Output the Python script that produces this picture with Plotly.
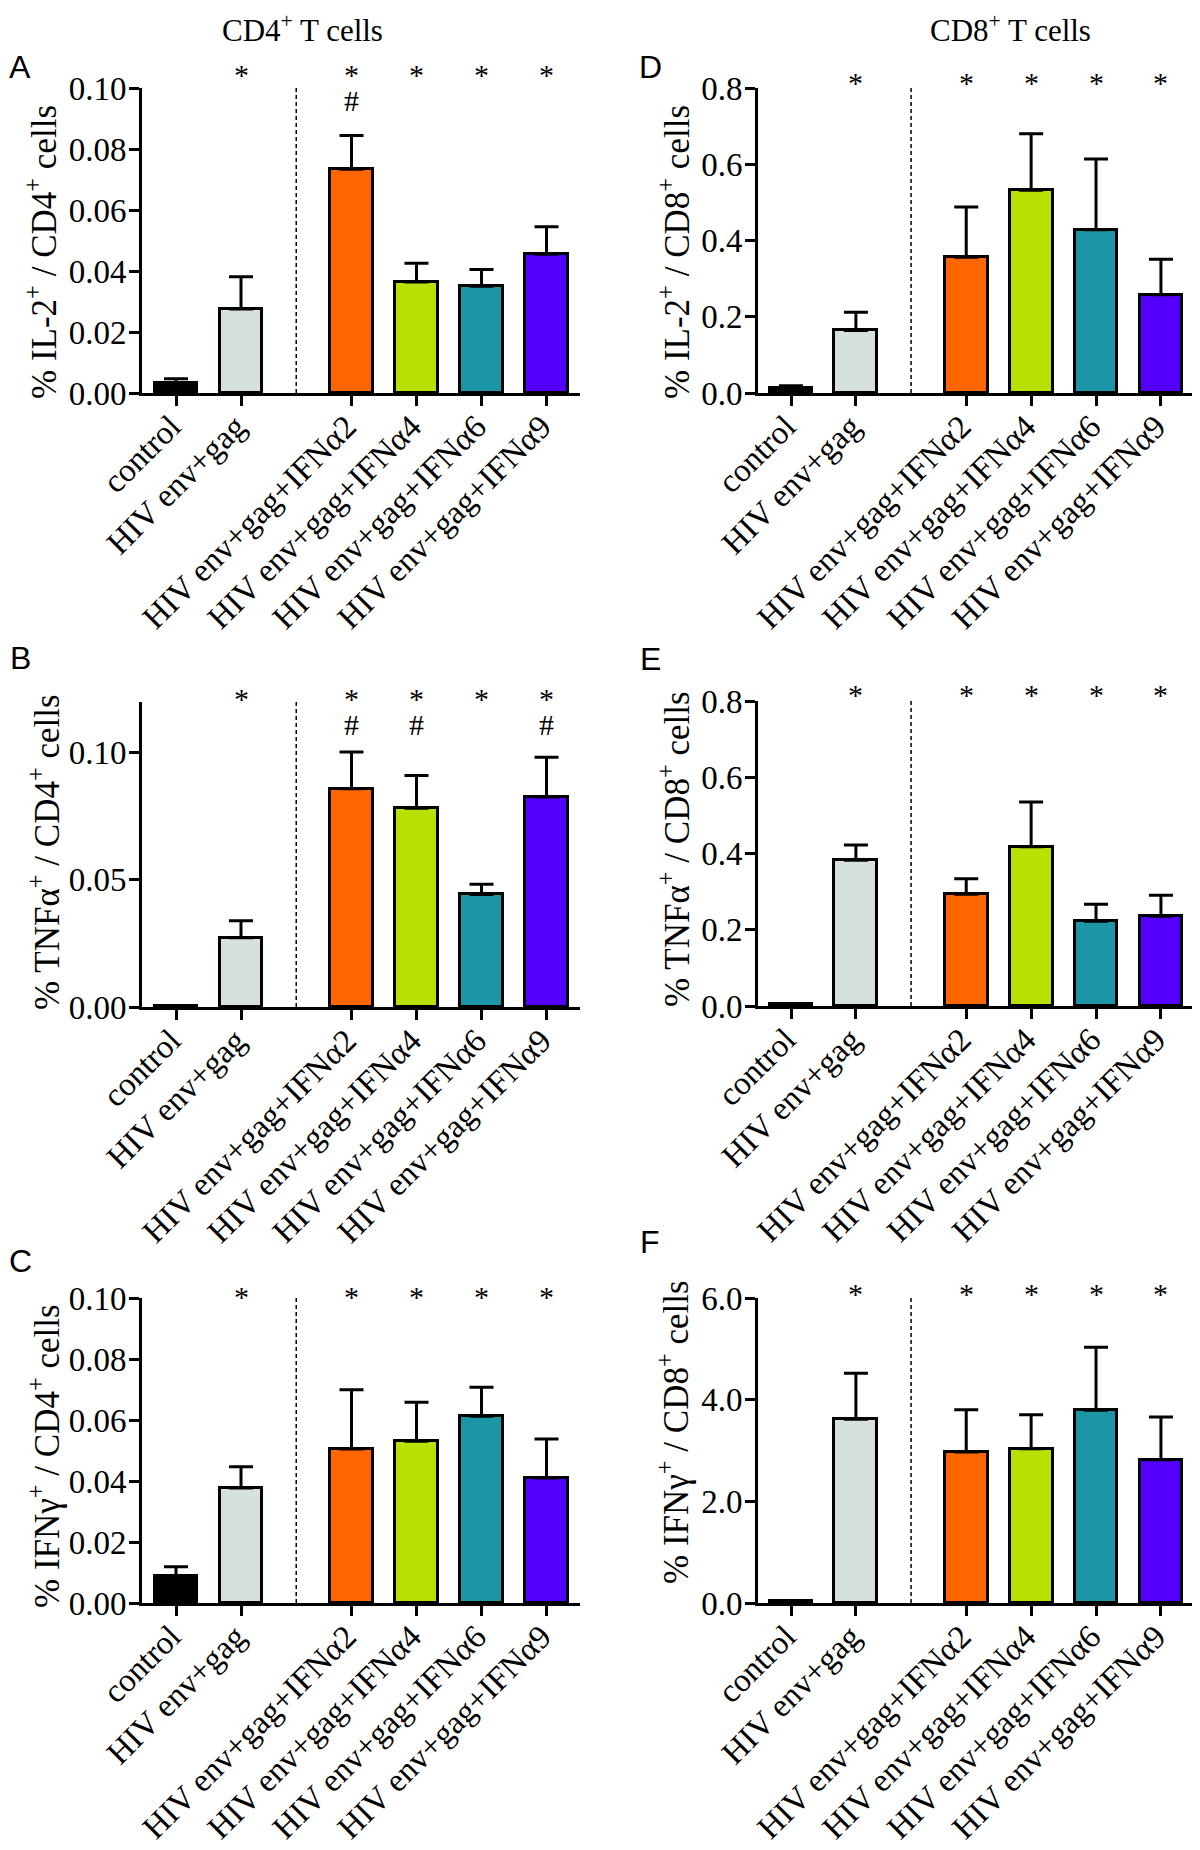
import plotly.graph_objects as go

# ---------------- data ----------------
categories = ["control", "HIV env+gag", "HIV env+gag+IFNα2", "HIV env+gag+IFNα4",
              "HIV env+gag+IFNα6", "HIV env+gag+IFNα9"]
positions = [0, 1, 2.7, 3.7, 4.7, 5.7]
bar_colors = ["#000000", "#d6e0de", "#ff6600", "#b8e000", "#1c96a6", "#5500ff"]

# A: IL-2 / CD4
il2_cd4 = [0.0033, 0.0275, 0.0734, 0.0364, 0.0350, 0.0455]
il2_cd4_err = [0.0014, 0.0106, 0.0110, 0.0061, 0.0055, 0.0090]
# D: IL-2 / CD8
il2_cd8 = [0.013, 0.164, 0.356, 0.532, 0.428, 0.258]
il2_cd8_err = [0.006, 0.048, 0.132, 0.148, 0.186, 0.093]
# B: TNFa / CD4
tnf_cd4 = [0.0004, 0.0272, 0.0859, 0.0782, 0.0443, 0.0826]
tnf_cd4_err = [0.0002, 0.0067, 0.0144, 0.0129, 0.0040, 0.0157]
# E: TNFa / CD8
tnf_cd8 = [0.004, 0.3825, 0.293, 0.4175, 0.222, 0.2355]
tnf_cd8_err = [0.002, 0.040, 0.041, 0.1175, 0.045, 0.055]
# C: IFNg / CD4
ifng_cd4 = [0.0087, 0.0377, 0.0505, 0.0530, 0.0612, 0.0410]
ifng_cd4_err = [0.0032, 0.0070, 0.0194, 0.0128, 0.0095, 0.0128]
# F: IFNg / CD8
ifng_cd8 = [0.03, 3.613, 2.97, 3.036, 3.79, 2.82]
ifng_cd8_err = [0.01, 0.905, 0.83, 0.669, 1.24, 0.84]

star_flags = [False, True, True, True, True, True]
hash_A = [False, False, True, False, False, False]
hash_B = [False, False, True, True, False, True]
hash_none = [False] * 6

y_ticks_cd4_a = [0.00, 0.02, 0.04, 0.06, 0.08, 0.10]
y_ticks_cd4_b = [0.00, 0.05, 0.10]
y_ticks_cd8 = [0.0, 0.2, 0.4, 0.6, 0.8]
y_ticks_f = [0.0, 2.0, 4.0, 6.0]

# ---------------- layout config ----------------
PAGE_W, PAGE_H = 1200, 1850
OFF = 8                      # default page margin around the plot div
W, H = PAGE_W - OFF, PAGE_H - OFF
SERIF = "Liberation Serif"
SANS = "Liberation Sans"

def px_x(v):
    return (v - OFF) / W

def px_y(v):
    return 1 - (v - OFF) / H

LEFT = dict(xdom=(142, 580), xr=((142 - 176) / 65.0, (580 - 176) / 65.0))
RIGHT = dict(xdom=(758, 1197), xr=((758 - 791) / 64.9, (1197 - 791) / 64.9))

panels = [
    dict(letter="A", vals=il2_cd4, err=il2_cd4_err, hashes=hash_A,
         title="% IL-2<sup>+</sup> / CD4<sup>+</sup> cells",
         ticks=y_ticks_cd4_a, fmt="{:.2f}", top=0.10, col=LEFT,
         ydom=(88, 393), star_y=1.046, hash_y=0.961,
         letter_xy=(20, 67), title_xy=(41, 252)),
    dict(letter="D", vals=il2_cd8, err=il2_cd8_err, hashes=hash_none,
         title="% IL-2<sup>+</sup> / CD8<sup>+</sup> cells",
         ticks=y_ticks_cd8, fmt="{:.1f}", top=0.8, col=RIGHT,
         ydom=(88, 393), star_y=1.020, hash_y=0.93,
         letter_xy=(650, 67), title_xy=(674, 252)),
    dict(letter="B", vals=tnf_cd4, err=tnf_cd4_err, hashes=hash_B,
         title="% TNFα<sup>+</sup> / CD4<sup>+</sup> cells",
         ticks=y_ticks_cd4_b, fmt="{:.2f}", top=0.12, col=LEFT,
         ydom=(702, 1007), star_y=1.012, hash_y=0.929,
         letter_xy=(20, 658), title_xy=(44, 852)),
    dict(letter="E", vals=tnf_cd8, err=tnf_cd8_err, hashes=hash_none,
         title="% TNFα<sup>+</sup> / CD8<sup>+</sup> cells",
         ticks=y_ticks_cd8, fmt="{:.1f}", top=0.8, col=RIGHT,
         ydom=(701, 1006), star_y=1.023, hash_y=0.93,
         letter_xy=(650, 659), title_xy=(674, 849)),
    dict(letter="C", vals=ifng_cd4, err=ifng_cd4_err, hashes=hash_none,
         title="% IFNγ<sup>+</sup> / CD4<sup>+</sup> cells",
         ticks=y_ticks_cd4_a, fmt="{:.2f}", top=0.10, col=LEFT,
         ydom=(1298, 1603), star_y=1.007, hash_y=0.93,
         letter_xy=(20, 1261), title_xy=(44, 1456)),
    dict(letter="F", vals=ifng_cd8, err=ifng_cd8_err, hashes=hash_none,
         title="% IFNγ<sup>+</sup> / CD8<sup>+</sup> cells",
         ticks=y_ticks_f, fmt="{:.1f}", top=6.0, col=RIGHT,
         ydom=(1298, 1603), star_y=1.016, hash_y=0.93,
         letter_xy=(650, 1242), title_xy=(673, 1432)),
]

fig = go.Figure()
annotations = []
shapes = []
layout_axes = {}

for i, p in enumerate(panels, start=1):
    xa = "x" if i == 1 else f"x{i}"
    ya = "y" if i == 1 else f"y{i}"
    fig.add_trace(go.Bar(
        x=positions, y=p["vals"], width=0.66,
        xaxis=xa, yaxis=ya,
        marker=dict(color=bar_colors, line=dict(color="black", width=3)),
        error_y=dict(type="data", array=p["err"], arrayminus=[0] * 6,
                     symmetric=False, color="black", thickness=3, width=12),
        showlegend=False,
    ))
    xkey = "xaxis" if i == 1 else f"xaxis{i}"
    ykey = "yaxis" if i == 1 else f"yaxis{i}"
    col = p["col"]
    layout_axes[xkey] = dict(
        domain=[px_x(col["xdom"][0]), px_x(col["xdom"][1])],
        anchor=ya, range=list(col["xr"]), automargin=False,
        tickmode="array", tickvals=positions, ticktext=categories,
        tickangle=-45, ticks="outside", ticklen=10, tickwidth=3,
        tickcolor="black", showline=True, linewidth=3, linecolor="black",
        showgrid=False, zeroline=False,
        ticklabelstandoff=-12, ticklabelshift=-5,
        tickfont=dict(family=SERIF, size=33, color="black"),
    )
    layout_axes[ykey] = dict(
        domain=[px_y(p["ydom"][1]), px_y(p["ydom"][0])],
        anchor=xa, range=[0, p["top"]], automargin=False,
        tickmode="array", tickvals=p["ticks"],
        ticktext=[p["fmt"].format(t) for t in p["ticks"]],
        ticks="outside", ticklen=10, tickwidth=3, tickcolor="black",
        showline=True, linewidth=3, linecolor="black",
        showgrid=False, zeroline=False, ticklabelstandoff=-4,
        tickfont=dict(family=SERIF, size=33, color="black"),
    )
    # dashed separator
    shapes.append(dict(type="line", xref=xa, yref=f"{ya} domain",
                       x0=1.85, x1=1.85, y0=0, y1=1,
                       line=dict(color="black", width=1.5, dash="4px,3px")))
    # significance marks
    for xpos, s, h in zip(positions, star_flags, p["hashes"]):
        if s:
            annotations.append(dict(x=xpos, y=p["star_y"], xref=xa, yref=f"{ya} domain",
                                    text="*", showarrow=False, yanchor="middle",
                                    height=22,
                                    font=dict(family=SERIF, size=30, color="black")))
        if h:
            annotations.append(dict(x=xpos, y=p["hash_y"], xref=xa, yref=f"{ya} domain",
                                    text="#", showarrow=False, yanchor="middle",
                                    height=22,
                                    font=dict(family=SERIF, size=30, color="black")))
    # panel letter
    annotations.append(dict(x=px_x(p["letter_xy"][0]), y=px_y(p["letter_xy"][1]),
                            xref="paper", yref="paper", text=p["letter"],
                            showarrow=False, xanchor="center", yanchor="middle",
                            font=dict(family=SANS, size=32, color="black")))
    # y axis title
    annotations.append(dict(x=px_x(p["title_xy"][0]), y=px_y(p["title_xy"][1]),
                            xref="paper", yref="paper", text=p["title"],
                            textangle=-90, showarrow=False,
                            xanchor="center", yanchor="middle",
                            font=dict(family=SERIF, size=35, color="black")))

# column titles
annotations.append(dict(x=px_x(302), y=px_y(28), xref="paper", yref="paper",
                        text="CD4<sup>+</sup> T cells", showarrow=False,
                        xanchor="center", yanchor="middle",
                        font=dict(family=SERIF, size=31, color="black")))
annotations.append(dict(x=px_x(1010), y=px_y(28), xref="paper", yref="paper",
                        text="CD8<sup>+</sup> T cells", showarrow=False,
                        xanchor="center", yanchor="middle",
                        font=dict(family=SERIF, size=31, color="black")))

fig.update_layout(
    width=W, height=H,
    margin=dict(l=0, r=0, t=0, b=0, autoexpand=False),
    paper_bgcolor="white", plot_bgcolor="white",
    annotations=annotations, shapes=shapes,
    bargap=0,
    **layout_axes,
)

fig.write_html("out.html")
